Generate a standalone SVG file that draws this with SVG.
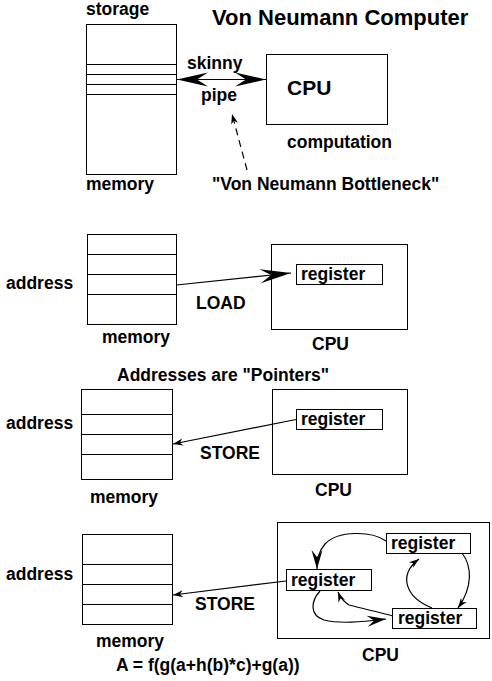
<svg xmlns="http://www.w3.org/2000/svg" width="492" height="681" viewBox="0 0 492 681">
<style>
text{font-family:"Liberation Sans",Arial,sans-serif;font-weight:bold;font-size:17.5px;fill:#000}
.box{fill:none;stroke:#000;stroke-width:1}
.ln{fill:none;stroke:#000;stroke-width:1.2}
.title{font-size:22px}
.cpu{font-size:21px}
</style>
<defs>
<marker id="big" viewBox="-31 -8 32 16" refX="0" refY="0" markerWidth="32" markerHeight="16" markerUnits="userSpaceOnUse" orient="auto-start-reverse">
<path d="M0,0 L-31,-7 L-20,0 L-31,7 Z" fill="#000"/>
</marker>
<marker id="med" viewBox="-20 -7 21 14" refX="0" refY="0" markerWidth="21" markerHeight="14" markerUnits="userSpaceOnUse" orient="auto">
<path d="M0,0 L-19,-5.5 L-12,0 L-19,5.5 Z" fill="#000"/>
</marker>
<marker id="small" viewBox="-11 -5 12 10" refX="0" refY="0" markerWidth="12" markerHeight="10" markerUnits="userSpaceOnUse" orient="auto">
<path d="M0,0 L-10,-3.5 L-7,0 L-10,3.5 Z" fill="#000"/>
</marker>
</defs>
<rect width="492" height="681" fill="#fff"/>

<text class="title" x="212" y="25">Von Neumann Computer</text>

<g id="storage-memory">
<rect class="box" x="86.5" y="24.5" width="90" height="150"/>
<path class="box" d="M86.5,64.5H176.5M86.5,74.5H176.5M86.5,84.5H176.5M86.5,94.5H176.5"/>
<text x="86" y="15">storage</text>
<text x="86" y="190">memory</text>
</g>
<g id="cpu-top">
<rect class="box" x="266.5" y="54.5" width="121" height="70"/>
<text class="cpu" x="287" y="95">CPU</text>
<text x="287" y="148">computation</text>
</g>
<g id="bottleneck-label">
<text x="212" y="190">"Von Neumann Bottleneck"</text>
</g>

<g id="mem2">
<rect class="box" x="87.5" y="234.5" width="89" height="90"/>
<path class="box" d="M87.5,254.5H176.5M87.5,274.5H176.5M87.5,294.5H176.5"/>
<text x="6" y="289">address</text>
<text x="102" y="343">memory</text>
</g>
<g id="cpu2">
<rect class="box" x="271.5" y="244.5" width="136" height="85"/>
<rect class="box" x="296.5" y="264.5" width="86" height="20"/>
<text x="301" y="280">register</text>
<text x="312" y="350">CPU</text>
</g>

<text x="117" y="381">Addresses are "Pointers"</text>

<g id="mem3">
<rect class="box" x="81.5" y="389.5" width="91" height="90"/>
<path class="box" d="M81.5,414.5H172.5M81.5,434.5H172.5M81.5,454.5H172.5"/>
<text x="6" y="429">address</text>
<text x="90" y="503">memory</text>
</g>
<g id="cpu3">
<rect class="box" x="272.5" y="389.5" width="135" height="85"/>
<rect class="box" x="296.5" y="409.5" width="86" height="20"/>
<text x="301" y="425">register</text>
<text x="315" y="496">CPU</text>
</g>

<g id="mem4">
<rect class="box" x="82.5" y="534.5" width="90" height="90"/>
<path class="box" d="M82.5,564.5H172.5M82.5,584.5H172.5M82.5,604.5H172.5"/>
<text x="6" y="580">address</text>
<text x="96" y="647">memory</text>
<text x="116" y="671">A = f(g(a+h(b)*c)+g(a))</text>
</g>
<g id="cpu4">
<rect class="box" x="277.5" y="522.5" width="212" height="116"/>
<text x="362" y="661">CPU</text>
</g>
<g id="reg-top">
<rect class="box" x="386.5" y="533.5" width="84" height="20"/>
<text x="391" y="549">register</text>
</g>
<g id="reg-mid">
<rect class="box" x="286.5" y="569.5" width="85" height="21"/>
<text x="291" y="586">register</text>
</g>
<g id="reg-bot">
<rect class="box" x="392.5" y="608.5" width="84" height="20"/>
<text x="398" y="624">register</text>
</g>

<g id="connectors">
<line class="ln" x1="177" y1="79.5" x2="266" y2="79.5" marker-start="url(#big)" marker-end="url(#big)"/>
<text x="187" y="69">skinny</text>
<text x="201" y="101">pipe</text>
<line class="ln" x1="247" y1="170" x2="232" y2="114" stroke-dasharray="7,5" marker-end="url(#small)"/>

<line class="ln" x1="176.5" y1="285" x2="291" y2="273" marker-end="url(#big)"/>
<text x="196" y="309">LOAD</text>

<line class="ln" x1="296" y1="419.5" x2="173" y2="444" marker-end="url(#small)"/>
<text x="200" y="459">STORE</text>

<line class="ln" x1="286" y1="581" x2="173" y2="595" marker-end="url(#small)"/>
<text x="195" y="610">STORE</text>

<path class="ln" d="M386,541 C372,531 338,530 325,544 C318,552 317,560 317,569" marker-end="url(#med)"/>
<path class="ln" d="M320,591 C311,601 309,615 324,620 C340,624 360,622 386,619" marker-end="url(#med)"/>
<path class="ln" d="M393,616 C378,612 360,608 349,605 C343,601 340,597 338,592" marker-end="url(#small)"/>
<path class="ln" d="M462,553 C472,566 473,587 458,608" marker-end="url(#small)"/>
<path class="ln" d="M432,608 C405,597 398,575 419,559" marker-end="url(#small)"/>
</g>
</svg>
